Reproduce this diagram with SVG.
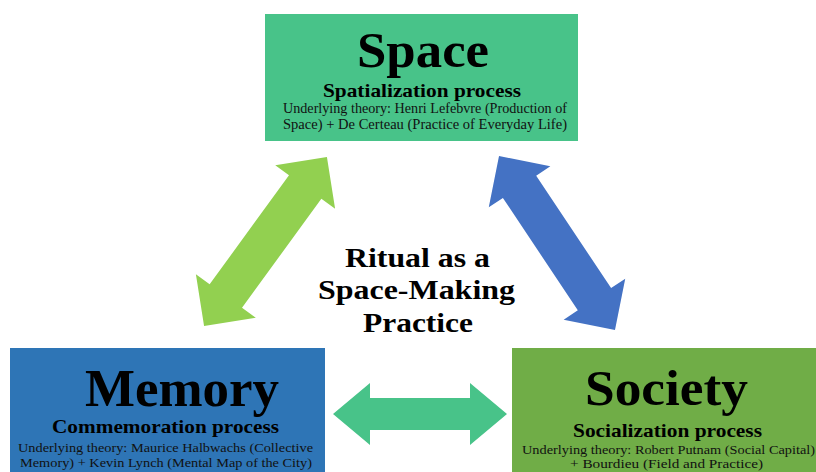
<svg xmlns="http://www.w3.org/2000/svg" width="816" height="472" viewBox="0 0 816 472">
  <style>
    .title { font-family: "Liberation Serif", "Times New Roman", serif; font-weight: bold; fill: #000; text-anchor: middle; }
    .sub { font-family: "Liberation Serif", "Times New Roman", serif; font-weight: bold; fill: #000; text-anchor: middle; font-size: 19px; }
    .theory { font-family: "Liberation Serif", "Times New Roman", serif; fill: #111; text-anchor: middle; font-size: 14.5px; }
    .theory-sm { font-family: "Liberation Serif", "Times New Roman", serif; fill: #111; text-anchor: middle; font-size: 12.5px; }
    .center { font-family: "Liberation Serif", "Times New Roman", serif; font-weight: bold; fill: #000; text-anchor: middle; font-size: 28px; }
  </style>
  <defs>
    <!-- double-headed block arrow along the x axis, centred at the origin -->
    <polygon id="diag-arrow" points="-104.5,0 -67.5,-37 -67.5,-20 67.5,-20 67.5,-37 104.5,0 67.5,37 67.5,20 -67.5,20 -67.5,37"/>
  </defs>
  <rect width="816" height="472" fill="#ffffff"/>

  <g id="connectors">
    <use href="#diag-arrow" fill="#92D050" transform="translate(265.5,241.5) rotate(-54)"/>
    <use href="#diag-arrow" fill="#4472C4" transform="translate(557,243) rotate(56.3)"/>
    <polygon fill="#48C389" points="333,414 370,383 370,398 470,398 470,383 507,414 470,445 470,430 370,430 370,445"/>
  </g>

  <g id="space">
    <rect x="265" y="14" width="313" height="127" fill="#48C389"/>
    <text class="title" x="423" y="67" font-size="50" textLength="132" lengthAdjust="spacingAndGlyphs">Space</text>
    <text class="sub" x="422" y="97" textLength="198" lengthAdjust="spacingAndGlyphs">Spatialization process</text>
    <text class="theory" x="425" y="113" textLength="284" lengthAdjust="spacingAndGlyphs">Underlying theory: Henri Lefebvre (Production of</text>
    <text class="theory" x="425" y="129" textLength="284" lengthAdjust="spacingAndGlyphs">Space) + De Certeau (Practice of Everyday Life)</text>
  </g>

  <g id="memory">
    <rect x="10" y="348" width="315" height="124" fill="#2E75B6"/>
    <text class="title" x="182" y="406" font-size="53" textLength="194" lengthAdjust="spacingAndGlyphs">Memory</text>
    <text class="sub" x="165.5" y="433" textLength="227" lengthAdjust="spacingAndGlyphs">Commemoration process</text>
    <text class="theory-sm" x="165.5" y="452" textLength="295" lengthAdjust="spacingAndGlyphs">Underlying theory: Maurice Halbwachs (Collective</text>
    <text class="theory-sm" x="166" y="467" textLength="292" lengthAdjust="spacingAndGlyphs">Memory) + Kevin Lynch (Mental Map of the City)</text>
  </g>

  <g id="society">
    <rect x="512" y="348" width="304" height="124" fill="#70AD47"/>
    <text class="title" x="666.5" y="405" font-size="50" textLength="163" lengthAdjust="spacingAndGlyphs">Society</text>
    <text class="sub" x="667.5" y="437" textLength="189" lengthAdjust="spacingAndGlyphs">Socialization process</text>
    <text class="theory-sm" x="668.5" y="454" textLength="293" lengthAdjust="spacingAndGlyphs">Underlying theory: Robert Putnam (Social Capital)</text>
    <text class="theory-sm" x="666.5" y="468" textLength="193" lengthAdjust="spacingAndGlyphs">+ Bourdieu (Field and Practice)</text>
  </g>

  <g id="ritual">
    <text class="center" x="417.5" y="267" textLength="145" lengthAdjust="spacingAndGlyphs">Ritual as a</text>
    <text class="center" x="416.5" y="299" textLength="197" lengthAdjust="spacingAndGlyphs">Space-Making</text>
    <text class="center" x="418" y="332" textLength="110" lengthAdjust="spacingAndGlyphs">Practice</text>
  </g>
</svg>
